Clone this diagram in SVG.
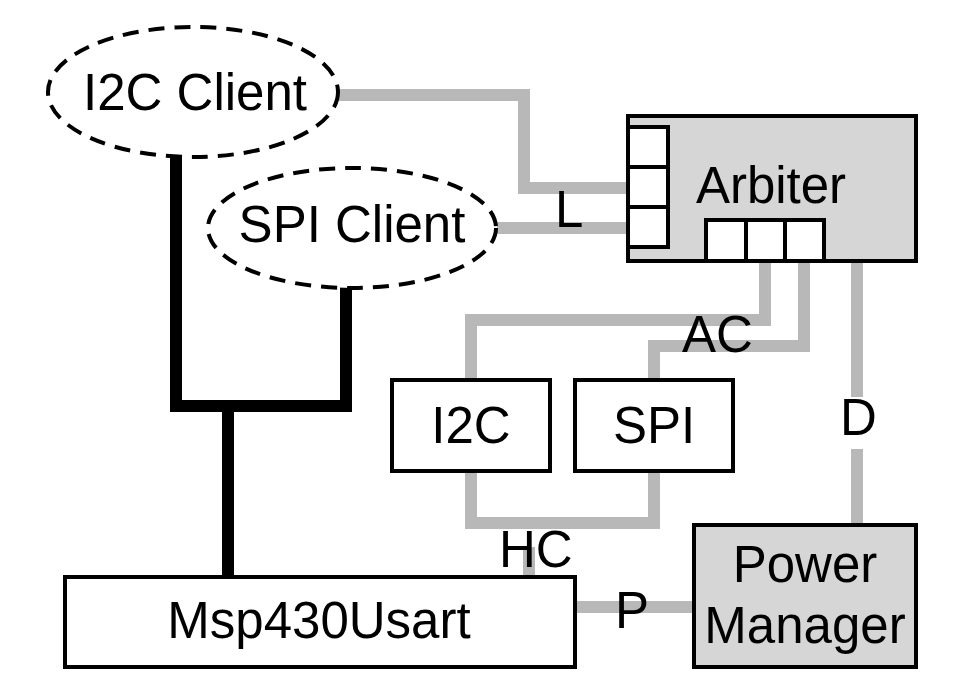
<svg xmlns="http://www.w3.org/2000/svg" width="957" height="689" viewBox="0 0 957 689">
<style>
text{font-family:"Liberation Sans",Arial,sans-serif;font-size:51px;fill:#000}
.node{stroke:#000;stroke-width:4}
.white{fill:#fff}
.gray{fill:#d6d6d6}
.client{fill:#fff;stroke:#000;stroke-width:4;stroke-dasharray:16 10}
.wire{fill:none;stroke:#b8b8b8;stroke-width:12}
.bus{fill:none;stroke:#000;stroke-width:12}
.lbg{fill:#fff}
</style>
<rect width="957" height="689" fill="#fff"/>
<g id="connectors">
<polyline class="wire" points="338,95 524,95 524,188 628,188"/>
<polyline class="wire" points="497,228 628,228"/>
<polyline class="wire" points="765,262 765,320 471,320 471,378"/>
<polyline class="wire" points="804,262 804,346 654,346 654,378"/>
<polyline class="wire" points="857,262 857,523"/>
<polyline class="wire" points="471,473 471,523 654,523 654,473"/>
<polyline class="wire" points="529,523 529,575"/>
<polyline class="wire" points="575,607 692,607"/>
<polyline class="bus" points="176,157 176,406 346,406 346,286"/>
<polyline class="bus" points="228,406 228,575"/>
<text x="555" y="227">L</text>
<text x="682" y="352">AC</text>
<rect class="lbg" x="840" y="397" width="40" height="52"/>
<text x="840" y="435">D</text>
<rect class="lbg" x="522" y="529" width="14" height="18"/>
<text x="499" y="567">HC</text>
<text x="615" y="628">P</text>
</g>
<g id="i2c-client">
<ellipse class="client" cx="193" cy="92" rx="145" ry="65"/>
<text x="195" y="110" text-anchor="middle">I2C Client</text>
</g>
<g id="spi-client">
<ellipse class="client" cx="352" cy="228" rx="144" ry="60"/>
<text x="352" y="242" text-anchor="middle">SPI Client</text>
</g>
<g id="arbiter">
<rect class="node gray" x="628" y="116" width="288" height="145"/>
<rect class="node white" x="628" y="127" width="40" height="40"/>
<rect class="node white" x="628" y="167" width="40" height="40"/>
<rect class="node white" x="628" y="207" width="40" height="40"/>
<rect class="node white" x="706" y="220" width="40" height="41"/>
<rect class="node white" x="746" y="220" width="39" height="41"/>
<rect class="node white" x="785" y="220" width="39" height="41"/>
<text x="771" y="203" text-anchor="middle">Arbiter</text>
</g>
<g id="i2c">
<rect class="node white" x="392" y="380" width="158" height="91"/>
<text x="471" y="443" text-anchor="middle">I2C</text>
</g>
<g id="spi">
<rect class="node white" x="575" y="380" width="158" height="91"/>
<text x="654" y="443" text-anchor="middle">SPI</text>
</g>
<g id="msp430usart">
<rect class="node white" x="65" y="577" width="510" height="90"/>
<text x="319" y="638" text-anchor="middle">Msp430Usart</text>
</g>
<g id="power-manager">
<rect class="node gray" x="694" y="525" width="222" height="142"/>
<text x="805" y="582" text-anchor="middle">Power</text>
<text x="805" y="643" text-anchor="middle">Manager</text>
</g>
</svg>
